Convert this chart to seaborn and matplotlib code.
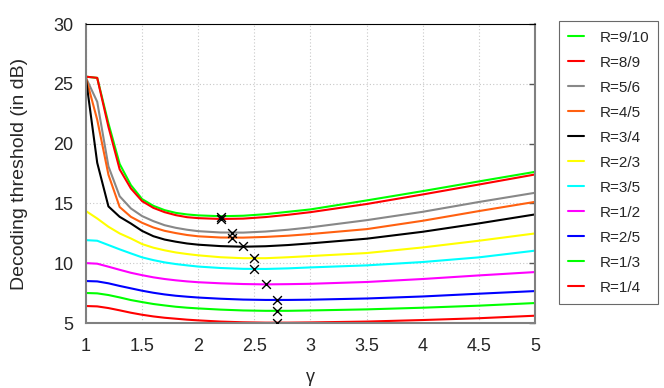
import matplotlib
matplotlib.use("Agg")
import matplotlib.pyplot as plt
import seaborn as sns
import pandas as pd

gamma = [1.0, 1.1, 1.2, 1.3, 1.4, 1.5, 1.6, 1.7, 1.8, 1.9, 2.0,
         2.2, 2.4, 2.6, 2.8, 3.0, 3.5, 4.0, 4.5, 5.0]

rates = ["R=9/10", "R=8/9", "R=5/6", "R=4/5", "R=3/4", "R=2/3",
         "R=3/5", "R=1/2", "R=2/5", "R=1/3", "R=1/4"]
colors = ["#00ff00", "#ff0000", "#888888", "#ff6010", "#000000", "#ffff00",
          "#00ffff", "#ff00ff", "#0000ff", "#00ff00", "#ff0000"]

r_9_10 = [25.6, 25.5, 21.7, 18.3, 16.53, 15.36, 14.8, 14.44, 14.21, 14.08, 14.0,
          13.93, 13.97, 14.1, 14.3, 14.5, 15.25, 16.03, 16.84, 17.64]
r_8_9 = [25.6, 25.5, 21.4, 17.85, 16.25, 15.19, 14.63, 14.27, 14.02, 13.85, 13.77,
         13.7, 13.73, 13.86, 14.05, 14.27, 14.95, 15.75, 16.58, 17.42]
r_5_6 = [25.5, 23.5, 18.1, 15.6, 14.58, 13.94, 13.52, 13.18, 12.96, 12.8, 12.68,
         12.57, 12.56, 12.65, 12.8, 13.0, 13.6, 14.3, 15.12, 15.89]
r_4_5 = [25.5, 22.0, 17.4, 14.7, 13.88, 13.38, 12.99, 12.71, 12.52, 12.36, 12.25,
         12.15, 12.14, 12.2, 12.3, 12.44, 12.85, 13.55, 14.36, 15.13]
r_3_4 = [25.4, 18.4, 14.75, 13.88, 13.32, 12.7, 12.26, 11.98, 11.8, 11.65, 11.55,
         11.43, 11.38, 11.42, 11.52, 11.66, 12.05, 12.63, 13.33, 14.08]
r_2_3 = [14.36, 13.74, 13.05, 12.49, 12.07, 11.6, 11.3, 11.08, 10.9, 10.77, 10.66,
         10.5, 10.42, 10.42, 10.5, 10.6, 10.85, 11.32, 11.88, 12.49]
r_3_5 = [11.93, 11.88, 11.52, 11.16, 10.82, 10.49, 10.26, 10.07, 9.93, 9.82, 9.72,
         9.6, 9.53, 9.52, 9.57, 9.65, 9.82, 10.1, 10.49, 11.05]
r_1_2 = [10.01, 9.96, 9.71, 9.45, 9.2, 9.0, 8.82, 8.68, 8.57, 8.48, 8.41,
         8.32, 8.26, 8.23, 8.25, 8.28, 8.43, 8.68, 8.98, 9.26]
r_2_5 = [8.51, 8.48, 8.32, 8.1, 7.9, 7.7, 7.53, 7.39, 7.28, 7.2, 7.13,
         7.03, 6.96, 6.93, 6.93, 6.95, 7.05, 7.22, 7.45, 7.67]
r_1_3 = [7.51, 7.48, 7.34, 7.14, 6.92, 6.75, 6.59, 6.47, 6.36, 6.28, 6.22,
         6.12, 6.05, 6.02, 6.02, 6.05, 6.14, 6.28, 6.45, 6.67]
r_1_4 = [6.42, 6.39, 6.25, 6.06, 5.86, 5.69, 5.55, 5.44, 5.36, 5.28, 5.22,
         5.12, 5.06, 5.03, 5.03, 5.05, 5.12, 5.25, 5.4, 5.61]

series = [r_9_10, r_8_9, r_5_6, r_4_5, r_3_4, r_2_3, r_3_5, r_1_2, r_2_5, r_1_3, r_1_4]

# optimum points (crosses)
opt_gamma = [2.2, 2.2, 2.3, 2.3, 2.4, 2.5, 2.5, 2.6, 2.7, 2.7, 2.7]
opt_thr = [13.9, 13.7, 12.55, 12.15, 11.4, 10.45, 9.55, 8.25, 6.95, 6.02, 5.02]

rows = []
for name, vals in zip(rates, series):
    for g, v in zip(gamma, vals):
        rows.append({"gamma": g, "thr": v, "rate": name})
df = pd.DataFrame(rows)
opt = pd.DataFrame({"gamma": opt_gamma, "thr": opt_thr})

sns.set_style("white")
plt.rcParams['font.family'] = ['Liberation Sans', 'DejaVu Sans']

fig = plt.figure(figsize=(6.64, 3.88), dpi=100)
ax = fig.add_axes([0.1295, 0.1675, 0.6762, 0.7705])

sns.lineplot(data=df, x="gamma", y="thr", hue="rate", hue_order=rates,
             palette=colors, linewidth=1.5, sort=False, ax=ax)
sns.scatterplot(data=opt, x="gamma", y="thr", marker="x", color="black",
                s=40, linewidth=1.0, zorder=5, ax=ax)

ax.set_xlim(1, 5)
ax.set_ylim(5, 30)
ax.set_xticks([1, 1.5, 2, 2.5, 3, 3.5, 4, 4.5, 5])
ax.set_xticklabels(["1", "1.5", "2", "2.5", "3", "3.5", "4", "4.5", "5"])
ax.set_yticks([5, 10, 15, 20, 25, 30])
ax.grid(True, color="#c8c8c8", linestyle=(0, (1, 2)), linewidth=0.8)
ax.tick_params(direction="in", length=4, width=1, color="#555555",
               labelsize=13, right=True, top=False)
ax.tick_params(axis="y", pad=9)
ax.tick_params(axis="x", pad=11)
for side in ["left", "bottom", "right"]:
    ax.spines[side].set_color("#808080")
    ax.spines[side].set_linewidth(1.5)
ax.spines["top"].set_color("black")
ax.spines["top"].set_linewidth(0.8)

ax.set_xlabel("γ", fontsize=13, labelpad=10)
ax.set_ylabel("Decoding threshold (in dB)", fontsize=14, labelpad=18)

handles, labels = ax.get_legend_handles_labels()
leg = ax.legend(handles[:11], labels[:11], loc="upper left",
                bbox_to_anchor=(0.842, 0.945), bbox_transform=fig.transFigure,
                fontsize=11, frameon=True, fancybox=False, handlelength=1.0,
                handletextpad=1.05, labelspacing=0.72, borderpad=0.6,
                borderaxespad=0)
leg.get_frame().set_edgecolor("#444444")
leg.get_frame().set_linewidth(0.8)

fig.savefig("out.png", dpi=100)
